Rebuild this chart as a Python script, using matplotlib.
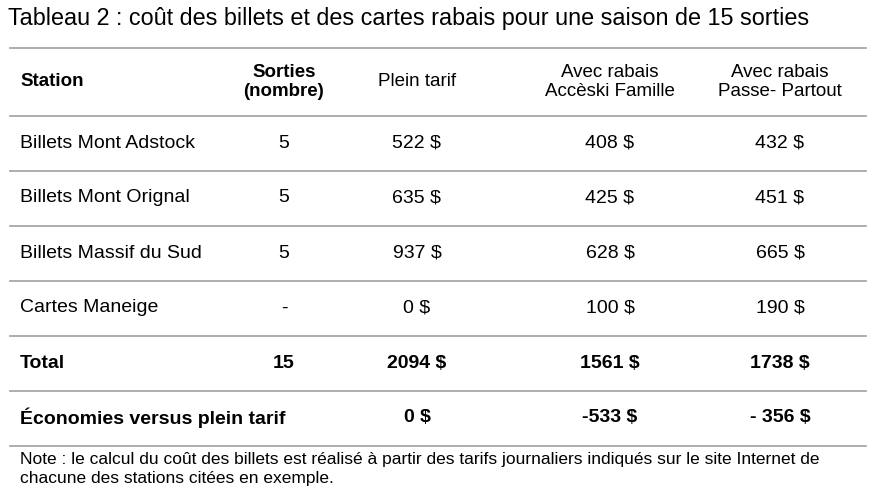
import matplotlib.pyplot as plt

title = "Tableau 2 : coût des billets et des cartes rabais pour une saison de 15 sorties"
headers = ["Station", "Sorties\n(nombre)", "Plein tarif", "Avec rabais\nAccèski Famille", "Avec rabais\nPasse- Partout"]
stations = ["Billets Mont Adstock", "Billets Mont Orignal", "Billets Massif du Sud", "Cartes Maneige",
            "Total", "Économies versus plein tarif"]
sorties = ["5", "5", "5", "-", "15", ""]
plein = ["522 $", "635 $", "937 $", "0 $", "2094 $", "0 $"]
acceski = ["408 $", "425 $", "628 $", "100 $", "1561 $", "-533 $"]
passe = ["432 $", "451 $", "665 $", "190 $", "1738 $", "- 356 $"]
bold_rows = [4, 5]
note = ("Note : le calcul du coût des billets est réalisé à partir des tarifs journaliers indiqués sur le site Internet de\n"
        "chacune des stations citées en exemple.")

W, H = 876, 500
fig = plt.figure(figsize=(W / 100, H / 100), dpi=100)
ax = fig.add_axes([0, 0, 1, 1])
ax.set_xlim(0, W)
ax.set_ylim(H, 0)
ax.axis("off")
plt.rcParams["font.family"] = "Liberation Sans"

ax.text(8, 19, title, fontsize=16.8, va="center", ha="left")

line_y = [48, 116, 171, 226, 281, 336, 391, 446]
for y in line_y:
    ax.plot([10, 866], [y, y], color="#a0a0a0", lw=1.2)

col_x = [20, 284, 417, 610, 780]
hy = 82
ax.text(col_x[0], hy, headers[0], fontsize=13.5, fontweight="bold", ha="left", va="center")
ax.text(col_x[1], hy, headers[1], fontsize=13.5, fontweight="bold", ha="center", va="center", linespacing=1.1)
for i in range(2, 5):
    ax.text(col_x[i], hy, headers[i], fontsize=13.5, ha="center", va="center", linespacing=1.1)

for r in range(len(stations)):
    y = 143 + 55 * r
    fw = "bold" if r in bold_rows else "normal"
    ax.text(col_x[0], y, stations[r], fontsize=14, fontweight=fw, ha="left", va="center")
    vals = [sorties[r], plein[r], acceski[r], passe[r]]
    for i, v in enumerate(vals):
        ax.text(col_x[i + 1], y, v, fontsize=14, fontweight=fw, ha="center", va="center")

ax.text(20, 469, note, fontsize=12.5, ha="left", va="center", linespacing=1.3)

fig.savefig("out.png", dpi=100)
